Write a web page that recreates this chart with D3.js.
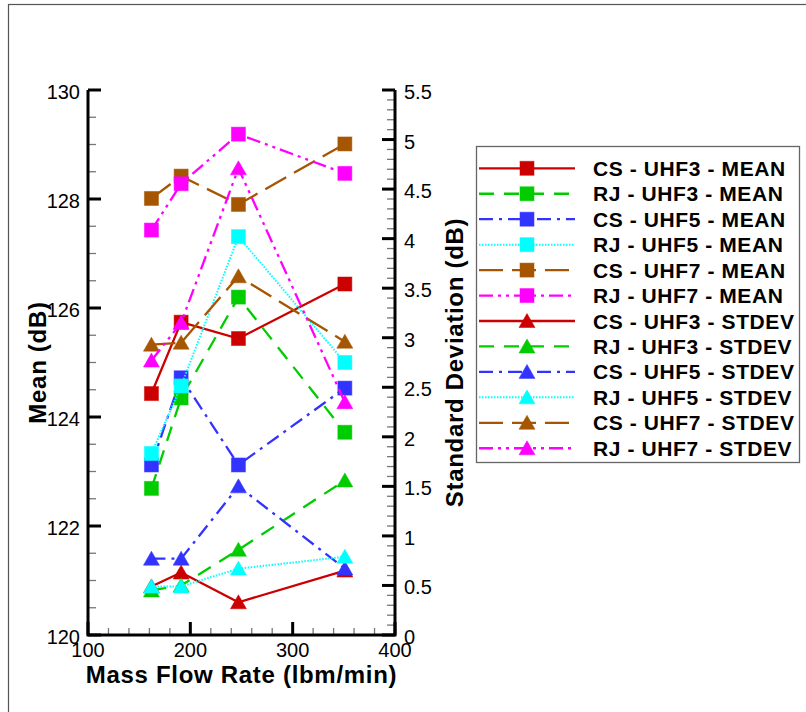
<!DOCTYPE html>
<html><head><meta charset="utf-8">
<script src="https://cdn.jsdelivr.net/npm/d3@7"></script>
<style>body{margin:0;background:#fff;} svg{display:block;font-family:"Liberation Sans",Arial,Helvetica,sans-serif;}</style>
</head><body>
<script>
const flowRates = [162, 191, 247, 351];
const xTicks = [100, 200, 300, 400];
const meanTicks = [120, 122, 124, 126, 128, 130];
const stdTicks = [0, 0.5, 1, 1.5, 2, 2.5, 3, 3.5, 4, 4.5, 5, 5.5];

const seriesNames = [
  "CS - UHF3 - MEAN", "RJ - UHF3 - MEAN", "CS - UHF5 - MEAN", "RJ - UHF5 - MEAN",
  "CS - UHF7 - MEAN", "RJ - UHF7 - MEAN", "CS - UHF3 - STDEV", "RJ - UHF3 - STDEV",
  "CS - UHF5 - STDEV", "RJ - UHF5 - STDEV", "CS - UHF7 - STDEV", "RJ - UHF7 - STDEV"
];
const csUhf3Mean = [124.43, 125.74, 125.44, 126.44];
const rjUhf3Mean = [122.69, 124.35, 126.2, 123.72];
const csUhf5Mean = [123.12, 124.72, 123.12, 124.53];
const rjUhf5Mean = [123.33, 124.57, 127.31, 125.0];
const csUhf7Mean = [128.01, 128.42, 127.9, 129.01];
const rjUhf7Mean = [127.43, 128.28, 129.19, 128.47];
const csUhf3Std = [0.49, 0.63, 0.33, 0.65];
const rjUhf3Std = [0.45, 0.50, 0.86, 1.56];
const csUhf5Std = [0.77, 0.77, 1.50, 0.67];
const rjUhf5Std = [0.49, 0.49, 0.67, 0.79];
const csUhf7Std = [2.93, 2.95, 3.62, 2.96];
const rjUhf7Std = [2.77, 3.15, 4.71, 2.35];

const seriesValues = [csUhf3Mean, rjUhf3Mean, csUhf5Mean, rjUhf5Mean, csUhf7Mean, rjUhf7Mean,
  csUhf3Std, rjUhf3Std, csUhf5Std, rjUhf5Std, csUhf7Std, rjUhf7Std];

const colors = ["#cc0000", "#00cc00", "#3333ff", "#00ffff", "#a65500", "#ff00ff"];
const dashes = [null, "15,10", "14,6,3,6", "1.5,1.5", "24,9", "14,5,3,5,3,5"];

const W = 806, H = 712;
const L = 88, R = 395, T = 90, B = 635;

const svg = d3.select("body").append("svg").attr("width", W).attr("height", H);
svg.append("rect").attr("x", 8.5).attr("y", 4.5).attr("width", 1000).attr("height", 1000)
  .attr("fill", "none").attr("stroke", "#555").attr("stroke-width", 1.2);

const x = d3.scaleLinear().domain([100, 400]).range([L, R]);
const yM = d3.scaleLinear().domain([120, 130]).range([B, T]);
const yS = d3.scaleLinear().domain([0, 5.5]).range([B, T]);

// minor ticks
const g = svg.append("g");
function minorRange(a, b, s) { const r = []; for (let v = a; v <= b + 1e-9; v += s) r.push(+v.toFixed(4)); return r; }
// left axis
minorRange(120, 130, 0.5).forEach(v => {
  const major = Math.abs(v / 2 - Math.round(v / 2)) < 1e-6;
  g.append("line").attr("x1", L).attr("x2", L + (major ? 13 : 8)).attr("y1", yM(v)).attr("y2", yM(v))
    .attr("stroke", major ? "#000" : "#777").attr("stroke-width", major ? 3 : 1.3);
});
// right axis
minorRange(0, 5.5, 0.1).forEach(v => {
  const major = Math.abs(v * 2 - Math.round(v * 2)) < 1e-6;
  g.append("line").attr("x1", R).attr("x2", R - (major ? 13 : 8)).attr("y1", yS(v)).attr("y2", yS(v))
    .attr("stroke", major ? "#000" : "#777").attr("stroke-width", major ? 3 : 1.3);
});
// bottom axis
minorRange(100, 400, 20).forEach(v => {
  const major = v % 100 === 0;
  g.append("line").attr("x1", x(v)).attr("x2", x(v)).attr("y1", B).attr("y2", B - (major ? 13 : 7))
    .attr("stroke", major ? "#000" : "#777").attr("stroke-width", major ? 3 : 1.3);
});
// axis lines
g.append("path").attr("d", `M${L},${T}V${B}H${R}V${T}`).attr("fill", "none")
  .attr("stroke", "#000").attr("stroke-width", 3).attr("stroke-linejoin", "miter");

// tick labels
const tl = svg.append("g").attr("font-size", 20).attr("fill", "#000");
meanTicks.forEach(v => tl.append("text").attr("x", L - 8).attr("y", yM(v) + 2)
  .attr("text-anchor", "end").attr("dominant-baseline", "central").text(v));
stdTicks.forEach(v => tl.append("text").attr("x", R + 9).attr("y", yS(v) + 2)
  .attr("text-anchor", "start").attr("dominant-baseline", "central").text(v));
xTicks.forEach(v => tl.append("text").attr("x", x(v)).attr("y", B + 15)
  .attr("text-anchor", "middle").attr("dominant-baseline", "central").text(v));

// axis titles
const tt = svg.append("g").attr("font-size", 24).attr("font-weight", "bold").attr("letter-spacing", "0.7px");
tt.append("text").attr("x", (L + R) / 2).attr("y", 683).attr("text-anchor", "middle").text("Mass Flow Rate (lbm/min)");
tt.append("text").attr("transform", `translate(46,${(T + B) / 2}) rotate(-90)`).attr("text-anchor", "middle").text("Mean (dB)");
tt.append("text").attr("transform", `translate(463,${(T + B) / 2}) rotate(-90)`).attr("text-anchor", "middle").text("Standard Deviation (dB)");

function marker(sel, isSquare, color) {
  if (isSquare) {
    sel.append("rect").attr("x", -7).attr("y", -7).attr("width", 14).attr("height", 14)
      .attr("fill", color).attr("stroke", color).attr("stroke-opacity", 0.5).attr("stroke-width", 1);
  } else {
    sel.append("path").attr("d", "M0,-7.5L8,6.5L-8,6.5Z")
      .attr("fill", color).attr("stroke", color).attr("stroke-opacity", 0.5).attr("stroke-width", 1);
  }
}

const plot = svg.append("g");
seriesValues.forEach((vals, i) => {
  const isMean = i < 6;
  const ys = isMean ? yM : yS;
  const color = colors[i % 6], dash = dashes[i % 6];
  const pts = flowRates.map((f, j) => [x(f), ys(vals[j])]);
  plot.append("path").attr("d", d3.line()(pts)).attr("fill", "none").attr("stroke", color)
    .attr("stroke-width", i % 6 === 3 ? 2 : 2.3).attr("stroke-dasharray", dash);
  pts.forEach(p => marker(plot.append("g").attr("transform", `translate(${p[0]},${p[1]})`), isMean, color));
});

// legend
const lg = svg.append("g");
lg.append("rect").attr("x", 476.5).attr("y", 146.5).attr("width", 323).attr("height", 316)
  .attr("fill", "#fff").attr("stroke", "#666").attr("stroke-width", 1.3);
seriesNames.forEach((name, i) => {
  const yy = 168.3 + i * 25.45;
  const color = colors[i % 6], dash = dashes[i % 6];
  lg.append("line").attr("x1", 479).attr("x2", 575).attr("y1", yy).attr("y2", yy)
    .attr("stroke", color).attr("stroke-width", i % 6 === 3 ? 2 : 2.3).attr("stroke-dasharray", dash);
  marker(lg.append("g").attr("transform", `translate(527,${yy})`), i < 6, color);
  lg.append("text").attr("x", 593).attr("y", yy).attr("dominant-baseline", "central")
    .attr("font-size", 21).attr("font-weight", "bold").attr("letter-spacing", "0.6px").text(name);
});
</script>
</body></html>
